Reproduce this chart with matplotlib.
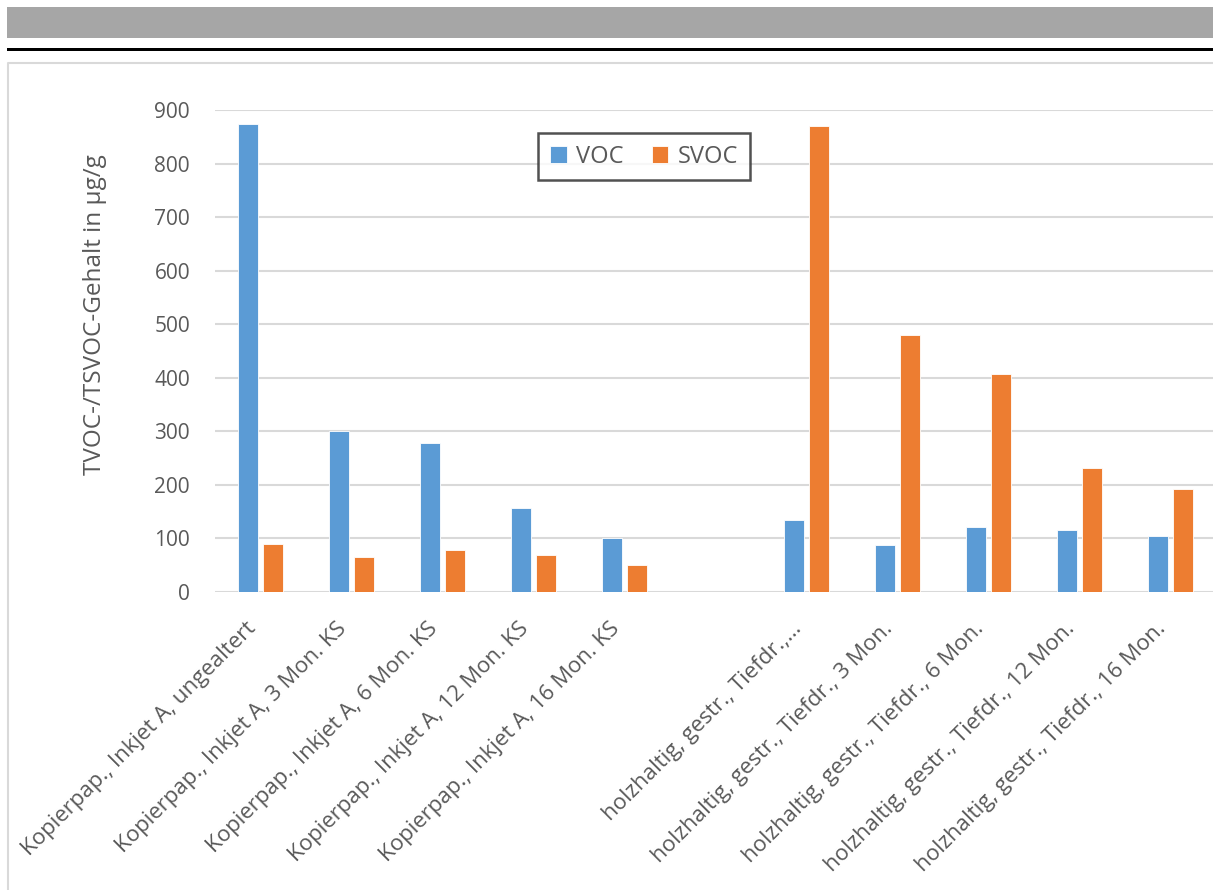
import numpy as np
import matplotlib
matplotlib.use("Agg")
import matplotlib.pyplot as plt
import matplotlib.transforms as mtransforms
from matplotlib.patches import Rectangle
from matplotlib.lines import Line2D

plt.rcParams['font.family'] = ['Open Sans', 'DejaVu Sans']

categories = [
    "Kopierpap., Inkjet A, ungealtert",
    "Kopierpap., Inkjet A, 3 Mon. KS",
    "Kopierpap., Inkjet A, 6 Mon. KS",
    "Kopierpap., Inkjet A, 12 Mon. KS",
    "Kopierpap., Inkjet A, 16 Mon. KS",
    "",
    "holzhaltig, gestr., Tiefdr.,…",
    "holzhaltig, gestr., Tiefdr., 3 Mon.",
    "holzhaltig, gestr., Tiefdr., 6 Mon.",
    "holzhaltig, gestr., Tiefdr., 12 Mon.",
    "holzhaltig, gestr., Tiefdr., 16 Mon.",
]
voc = [874, 300, 278, 157, 100, np.nan, 135, 88, 121, 115, 104]
svoc = [90, 65, 78, 69, 50, np.nan, 871, 479, 407, 231, 193]
yticks = [0, 100, 200, 300, 400, 500, 600, 700, 800, 900]

W, H = 1213, 890
fig = plt.figure(figsize=(W / 100, H / 100), dpi=100)

# header decorations
fig.add_artist(Rectangle((7 / W, 1 - 38 / H), 1 - 7 / W, 31 / H,
                         transform=fig.transFigure, facecolor='#a6a6a6', edgecolor='none'))
fig.add_artist(Rectangle((7 / W, 1 - 51 / H), 1 - 7 / W, 3.5 / H,
                         transform=fig.transFigure, facecolor='black', edgecolor='none'))
fig.add_artist(Line2D([8 / W, 8 / W, 1], [0, 1 - 63 / H, 1 - 63 / H],
                      transform=fig.transFigure, color='#d9d9d9', lw=1.5))

ax = fig.add_axes([215 / W, (H - 592) / H, 1 - 215 / W, (592 - 110) / H])

x = np.arange(len(categories))
w = 0.225
ax.bar(x - 0.14, voc, w, color='#5b9bd5', edgecolor='white', lw=0.6, label='VOC', zorder=3)
ax.bar(x + 0.14, svoc, w, color='#ed7d31', edgecolor='white', lw=0.6, label='SVOC', zorder=3)

ax.set_xlim(-0.5, -0.5 + (W - 215) / 91)
ax.set_ylim(0, 900)
ax.set_yticks(yticks)
ax.yaxis.grid(True, color='#d9d9d9', lw=1.5, zorder=0)
ax.set_axisbelow(True)
for s in ax.spines.values():
    s.set_visible(False)

ax.tick_params(axis='y', length=0, pad=18, labelsize=15, labelcolor='#595959')
ax.tick_params(axis='x', length=0, pad=19, labelsize=16, labelcolor='#595959')
ax.set_xticks(x)
ax.set_xticklabels(categories, rotation=45, ha='right', rotation_mode='anchor')
shift = mtransforms.ScaledTranslation(-0.15, 0, fig.dpi_scale_trans)
for lab in ax.get_xticklabels():
    lab.set_transform(lab.get_transform() + shift)

fig.text(95 / W, (H - 315) / H, "TVOC-/TSVOC-Gehalt in µg/g", rotation=90,
         ha='center', va='center', fontsize=17.5, color='#595959')

leg = ax.legend(loc='center', bbox_to_anchor=(0.43, 0.9035), ncol=2, fontsize=17,
                frameon=True, fancybox=False, handlelength=0.7, handleheight=0.7,
                handletextpad=0.4, columnspacing=1.2, borderpad=0.5)
leg.get_frame().set_edgecolor('#262626')
leg.get_frame().set_linewidth(1.8)
for t in leg.get_texts():
    t.set_color('#595959')

fig.savefig("out.png", dpi=100)
